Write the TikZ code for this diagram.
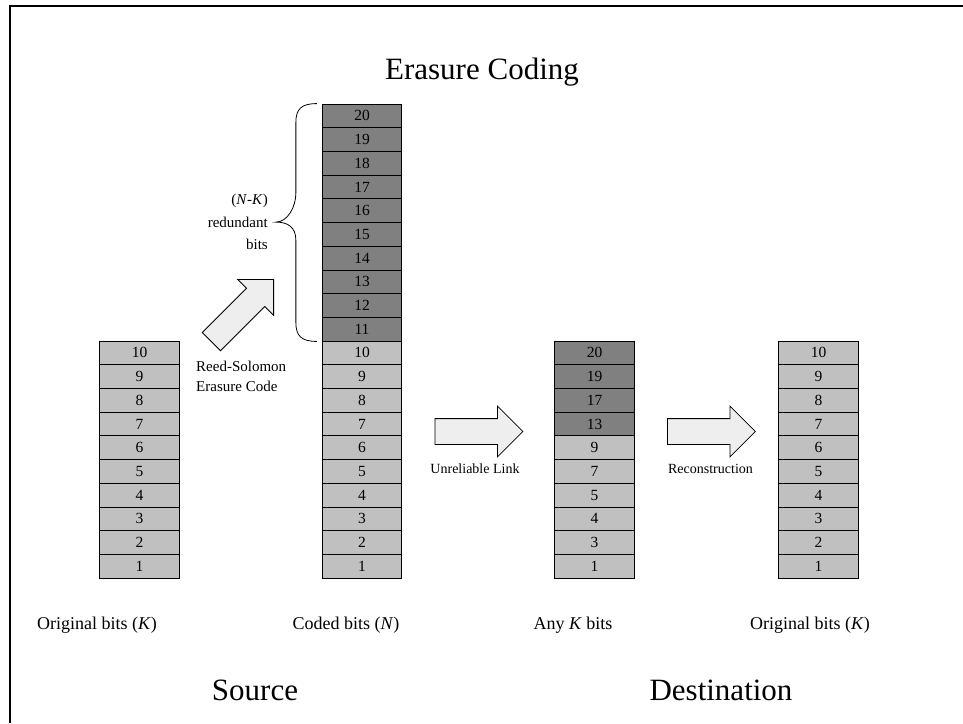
\documentclass[tikz,border=0pt]{standalone}
\usepackage{fontspec}
\setmainfont{Liberation Serif}
\usetikzlibrary{shapes.arrows,calc}
\definecolor{darkc}{HTML}{808080}
\definecolor{lightc}{HTML}{C0C0C0}
\definecolor{arrowc}{HTML}{EEEEEE}
\begin{document}
\begin{tikzpicture}[x=1pt,y=-1pt,
  cell/.style={draw=black,line width=0.8pt,minimum width=79.5pt,minimum height=23.7pt,inner sep=0pt,font=\fontsize{15.5}{18}\selectfont},
  blockarrow/.style={single arrow,draw=black,line width=0.8pt,fill=arrowc,inner xsep=0pt,inner ysep=12.5pt,single arrow head extend=12.5pt,minimum height=88pt,single arrow tip angle=90},
  lbl/.style={font=\fontsize{15}{22.5}\selectfont,inner sep=0pt},
  bot/.style={font=\fontsize{18}{22}\selectfont,inner sep=0pt},
  big/.style={font=\fontsize{31}{36}\selectfont,inner sep=0pt}]
\useasboundingbox (0,0) rectangle (963,723);
\draw[line width=2pt] (10,723) -- (10,6) -- (963,6);
% title
\node[big] (title) at (482,72) {Erasure Coding};
% column A
\foreach \i in {1,...,10}
  \node[cell,fill=lightc] (a\i) at (139.5,{566.15-(\i-1)*23.7}) {\i};
% column B
\foreach \i in {1,...,20}{
  \ifnum\i>10
    \node[cell,fill=darkc] (b\i) at (362,{566.15-(\i-1)*23.7}) {\i};
  \else
    \node[cell,fill=lightc] (b\i) at (362,{566.15-(\i-1)*23.7}) {\i};
  \fi}
% column C
\foreach \n/\k/\col in {1/1/lightc,3/2/lightc,4/3/lightc,5/4/lightc,7/5/lightc,9/6/lightc,13/7/darkc,17/8/darkc,19/9/darkc,20/10/darkc}
  \node[cell,fill=\col] (c\k) at (594.5,{566.15-(\k-1)*23.7}) {\n};
% column D
\foreach \i in {1,...,10}
  \node[cell,fill=lightc] (d\i) at (818.5,{566.15-(\i-1)*23.7}) {\i};
% brace
\draw[line width=0.8pt] ([xshift=-5pt]b11.south west) .. controls +(-15,0) and +(0,14) .. ++(-21,-19)
  -- ($(b15.north west)+(-26,18)$) .. controls +(0,-13) and +(12,0) .. ($(b15.north west)+(-46,0)$) coordinate (brtip)
  .. controls +(12,0) and +(0,13) .. ($(b16.north west)+(-26,-5)$)
  -- ($(b20.north west)+(-26,19)$) .. controls +(0,-14) and +(-15,0) .. ([xshift=-5pt]b20.north west);
\node[lbl,anchor=east,align=right] (nk) at (268,222) {(\textit{N}-\textit{K})\\redundant\\bits};
% arrows
\node[blockarrow,rotate=45,anchor=tip] (arr0) at (274,279) {};
\node[lbl,anchor=north west,align=left,font=\fontsize{15}{19.5}\selectfont] (rs) at (196,361) {Reed-Solomon\\Erasure Code};
\node[blockarrow,anchor=tail] (arr1) at (434.5,431.5) {};
\node[lbl,font=\fontsize{14}{18}\selectfont] (ul) at (475,469) {Unreliable Link};
\node[blockarrow,anchor=tail] (arr2) at (667,431.5) {};
\node[lbl,font=\fontsize{14}{18}\selectfont] (rc) at (710.5,469) {Reconstruction};
% bottom labels
\node[bot] (l1) at (97,625) {Original bits (\textit{K})};
\node[bot] (l2) at (346,625) {Coded bits (\textit{N})};
\node[bot] (l3) at (573,625) {Any \textit{K} bits};
\node[bot] (l4) at (810,625) {Original bits (\textit{K})};
\node[big] (src) at (255,690) {Source};
\node[big] (dst) at (721,690) {Destination};
\end{tikzpicture}
\end{document}
